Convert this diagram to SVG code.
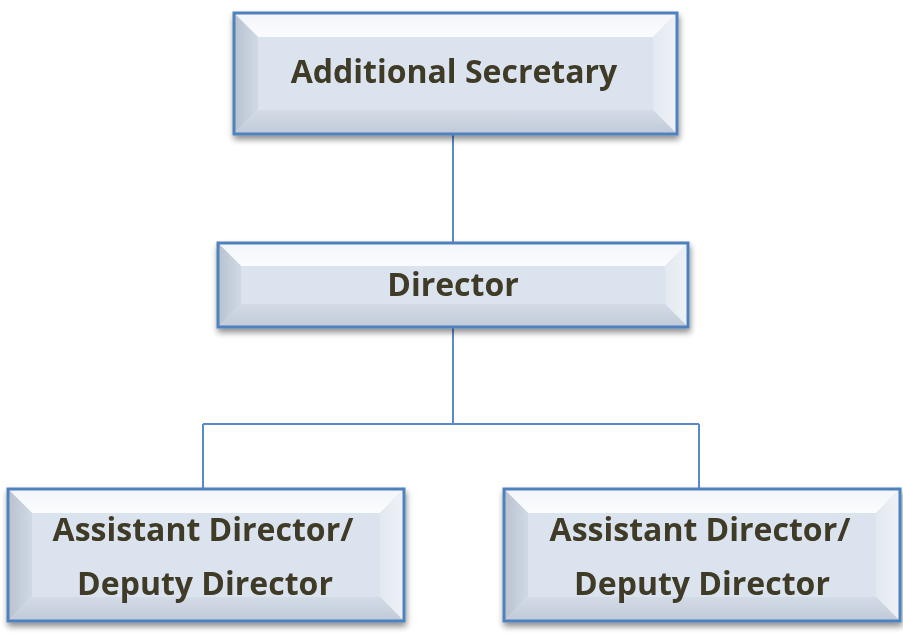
<svg xmlns="http://www.w3.org/2000/svg" width="903" height="640" viewBox="0 0 903 640">
<defs>
<filter id="sh" x="-10%" y="-10%" width="120%" height="140%">
<feGaussianBlur in="SourceAlpha" stdDeviation="3"/>
<feOffset dx="1" dy="4" result="b"/>
<feComponentTransfer><feFuncA type="linear" slope="0.45"/></feComponentTransfer>
<feMerge><feMergeNode/><feMergeNode in="SourceGraphic"/></feMerge>
</filter>
<linearGradient id="gTop" x1="0" y1="0" x2="0" y2="1"><stop offset="0" stop-color="#f2f5fa"/><stop offset="1" stop-color="#fbfcfe"/></linearGradient>
<linearGradient id="gLeft" x1="0" y1="0" x2="1" y2="0"><stop offset="0" stop-color="#b8c2cf"/><stop offset="1" stop-color="#d0d8e3"/></linearGradient>
<linearGradient id="gRight" x1="0" y1="0" x2="1" y2="0"><stop offset="0" stop-color="#e3e9f1"/><stop offset="1" stop-color="#eef2f7"/></linearGradient>
<linearGradient id="gBot" x1="0" y1="0" x2="0" y2="1"><stop offset="0" stop-color="#d3dbe6"/><stop offset="1" stop-color="#c0cad8"/></linearGradient>
</defs>
<style>
.face{fill:#dbe3ee}
.top{fill:url(#gTop)}
.left{fill:url(#gLeft)}
.right{fill:url(#gRight)}
.bot{fill:url(#gBot)}
.frame{fill:none;stroke:#4f81bd;stroke-width:3}
.lbl{font-family:"Open Sans","Liberation Sans",sans-serif;font-weight:bold;fill:#3f3b28;text-anchor:middle}
.conn{fill:none;stroke:#5b8bc6;stroke-width:2}
</style>
<g id="connectors">
<path class="conn" d="M453 134V243M453 327V424M203 424H699M203 424V489M699 424V489"/>
</g>
<g id="n1" filter="url(#sh)">
<rect class="face" x="234" y="13" width="443" height="121"/>
<polygon class="top" points="234,13 677,13 653,37 258,37"/>
<polygon class="left" points="234,13 258,37 258,110 234,134"/>
<polygon class="right" points="677,13 653,37 653,110 677,134"/>
<polygon class="bot" points="234,134 258,110 653,110 677,134"/>
<rect class="frame" x="234" y="13" width="443" height="121"/>
<text class="lbl" x="454" y="83" font-size="32">Additional Secretary</text>
</g>
<g id="n2" filter="url(#sh)">
<rect class="face" x="218" y="243" width="470" height="84"/>
<polygon class="top" points="218,243 688,243 665,266 241,266"/>
<polygon class="left" points="218,243 241,266 241,304 218,327"/>
<polygon class="right" points="688,243 665,266 665,304 688,327"/>
<polygon class="bot" points="218,327 241,304 665,304 688,327"/>
<rect class="frame" x="218" y="243" width="470" height="84"/>
<text class="lbl" x="453" y="296" font-size="32">Director</text>
</g>
<g id="n3" filter="url(#sh)">
<rect class="face" x="8" y="489" width="396" height="132"/>
<polygon class="top" points="8,489 404,489 380,513 32,513"/>
<polygon class="left" points="8,489 32,513 32,597 8,621"/>
<polygon class="right" points="404,489 380,513 380,597 404,621"/>
<polygon class="bot" points="8,621 32,597 380,597 404,621"/>
<rect class="frame" x="8" y="489" width="396" height="132"/>
<text class="lbl" font-size="32"><tspan x="203" y="541">Assistant Director/</tspan><tspan x="205" y="595">Deputy Director</tspan></text>
</g>
<g id="n4" filter="url(#sh)">
<rect class="face" x="504" y="489" width="396" height="132"/>
<polygon class="top" points="504,489 900,489 876,513 528,513"/>
<polygon class="left" points="504,489 528,513 528,597 504,621"/>
<polygon class="right" points="900,489 876,513 876,597 900,621"/>
<polygon class="bot" points="504,621 528,597 876,597 900,621"/>
<rect class="frame" x="504" y="489" width="396" height="132"/>
<text class="lbl" font-size="32"><tspan x="700" y="541">Assistant Director/</tspan><tspan x="702" y="595">Deputy Director</tspan></text>
</g>
</svg>
